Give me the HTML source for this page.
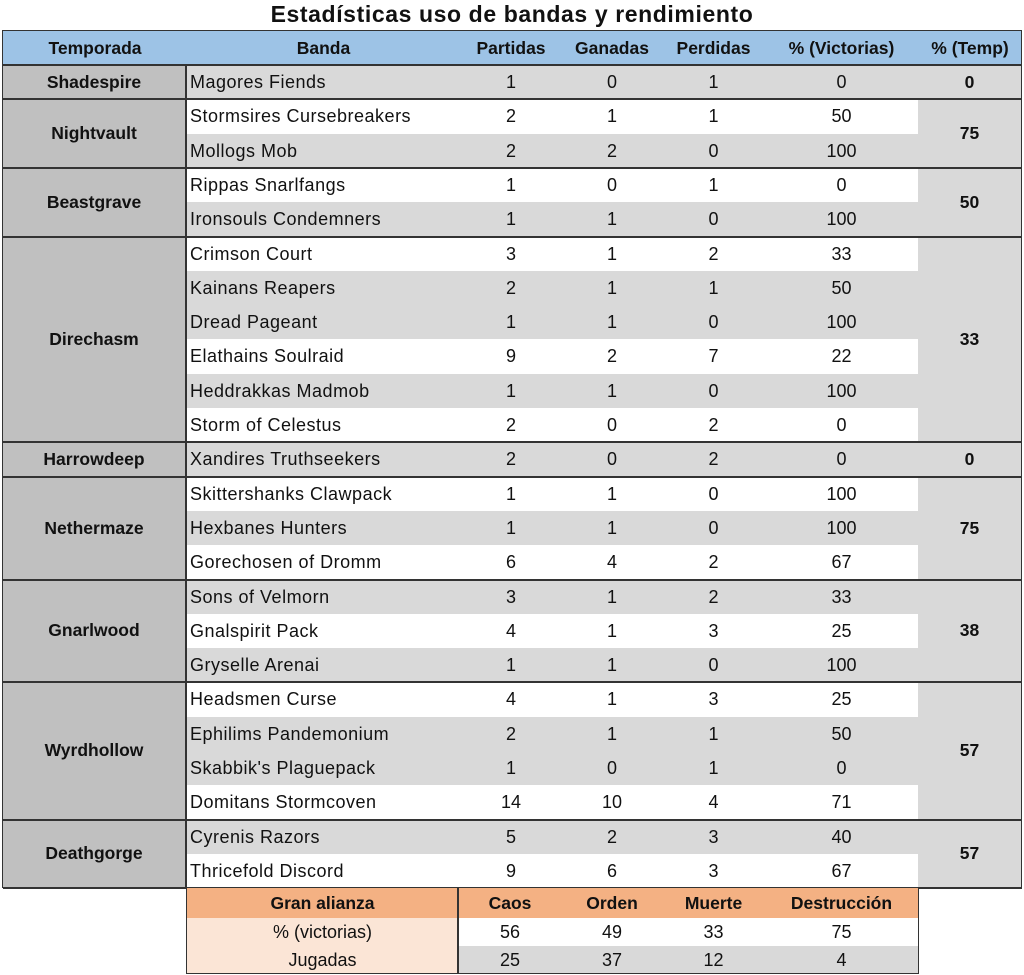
<!DOCTYPE html>
<html><head><meta charset="utf-8"><style>
body{margin:0;width:1024px;height:975px;background:#fff;position:relative;overflow:hidden;font-family:"Liberation Sans",sans-serif;color:#111}
.t{position:absolute;left:0;width:1024px;top:1px;text-align:center;font-weight:bold;font-size:23px;letter-spacing:0.6px}
.r{position:absolute;left:187px;width:731px;height:34.3px;font-size:18px;line-height:34.3px}
.g{background:#d9d9d9}.w{background:#fff}
.r span{position:absolute;top:0;text-align:center}
.n{left:3px;text-align:left!important;letter-spacing:0.5px}
.c1{left:273px;width:102px}.c2{left:375px;width:100px}.c3{left:475px;width:103px}.c4{left:578px;width:153px}
.tp{position:absolute;left:3px;width:184px;background:#c0c0c0;font-weight:bold;font-size:17.5px;display:flex;align-items:center;justify-content:center;border-right:2px solid #333;box-sizing:border-box}
.tc{position:absolute;left:918px;width:103px;background:#d9d9d9;font-weight:bold;font-size:17.5px;display:flex;align-items:center;justify-content:center}
.ln{position:absolute;left:3px;width:1019px;height:2px;background:#333}
.hd{position:absolute;top:31px;left:3px;width:1019px;height:34px;background:#9dc3e6;font-weight:bold;font-size:17.5px;line-height:34px}
.hd span,.bt span{position:absolute;top:0;text-align:center}
.bt{position:absolute;left:187px;width:731px;font-size:18px}
</style></head><body>
<div class="t">Estadísticas uso de bandas y rendimiento</div>
<div class="hd">
<span style="left:0;width:184px">Temporada</span>
<span style="left:184px;width:273px">Banda</span>
<span style="left:457px;width:102px">Partidas</span>
<span style="left:559px;width:100px">Ganadas</span>
<span style="left:659px;width:103px">Perdidas</span>
<span style="left:762px;width:153px">% (Victorias)</span>
<span style="left:915px;width:104px">% (Temp)</span>
</div>

<div class="r g" style="top:65px"><span class="n">Magores Fiends</span><span class="c1">1</span><span class="c2">0</span><span class="c3">1</span><span class="c4">0</span></div>
<div class="r w" style="top:99.3px"><span class="n">Stormsires Cursebreakers</span><span class="c1">2</span><span class="c2">1</span><span class="c3">1</span><span class="c4">50</span></div>
<div class="r g" style="top:133.6px"><span class="n">Mollogs Mob</span><span class="c1">2</span><span class="c2">2</span><span class="c3">0</span><span class="c4">100</span></div>
<div class="r w" style="top:167.9px"><span class="n">Rippas Snarlfangs</span><span class="c1">1</span><span class="c2">0</span><span class="c3">1</span><span class="c4">0</span></div>
<div class="r g" style="top:202.2px"><span class="n">Ironsouls Condemners</span><span class="c1">1</span><span class="c2">1</span><span class="c3">0</span><span class="c4">100</span></div>
<div class="r w" style="top:236.5px"><span class="n">Crimson Court</span><span class="c1">3</span><span class="c2">1</span><span class="c3">2</span><span class="c4">33</span></div>
<div class="r g" style="top:270.8px"><span class="n">Kainans Reapers</span><span class="c1">2</span><span class="c2">1</span><span class="c3">1</span><span class="c4">50</span></div>
<div class="r g" style="top:305.1px"><span class="n">Dread Pageant</span><span class="c1">1</span><span class="c2">1</span><span class="c3">0</span><span class="c4">100</span></div>
<div class="r w" style="top:339.4px"><span class="n">Elathains Soulraid</span><span class="c1">9</span><span class="c2">2</span><span class="c3">7</span><span class="c4">22</span></div>
<div class="r g" style="top:373.7px"><span class="n">Heddrakkas Madmob</span><span class="c1">1</span><span class="c2">1</span><span class="c3">0</span><span class="c4">100</span></div>
<div class="r w" style="top:408px"><span class="n">Storm of Celestus</span><span class="c1">2</span><span class="c2">0</span><span class="c3">2</span><span class="c4">0</span></div>
<div class="r g" style="top:442.3px"><span class="n">Xandires Truthseekers</span><span class="c1">2</span><span class="c2">0</span><span class="c3">2</span><span class="c4">0</span></div>
<div class="r w" style="top:476.6px"><span class="n">Skittershanks Clawpack</span><span class="c1">1</span><span class="c2">1</span><span class="c3">0</span><span class="c4">100</span></div>
<div class="r g" style="top:510.9px"><span class="n">Hexbanes Hunters</span><span class="c1">1</span><span class="c2">1</span><span class="c3">0</span><span class="c4">100</span></div>
<div class="r w" style="top:545.2px"><span class="n">Gorechosen of Dromm</span><span class="c1">6</span><span class="c2">4</span><span class="c3">2</span><span class="c4">67</span></div>
<div class="r g" style="top:579.5px"><span class="n">Sons of Velmorn</span><span class="c1">3</span><span class="c2">1</span><span class="c3">2</span><span class="c4">33</span></div>
<div class="r w" style="top:613.8px"><span class="n">Gnalspirit Pack</span><span class="c1">4</span><span class="c2">1</span><span class="c3">3</span><span class="c4">25</span></div>
<div class="r g" style="top:648.1px"><span class="n">Gryselle Arenai</span><span class="c1">1</span><span class="c2">1</span><span class="c3">0</span><span class="c4">100</span></div>
<div class="r w" style="top:682.4px"><span class="n">Headsmen Curse</span><span class="c1">4</span><span class="c2">1</span><span class="c3">3</span><span class="c4">25</span></div>
<div class="r g" style="top:716.7px"><span class="n">Ephilims Pandemonium</span><span class="c1">2</span><span class="c2">1</span><span class="c3">1</span><span class="c4">50</span></div>
<div class="r g" style="top:751px"><span class="n">Skabbik's Plaguepack</span><span class="c1">1</span><span class="c2">0</span><span class="c3">1</span><span class="c4">0</span></div>
<div class="r w" style="top:785.3px"><span class="n">Domitans Stormcoven</span><span class="c1">14</span><span class="c2">10</span><span class="c3">4</span><span class="c4">71</span></div>
<div class="r g" style="top:819.6px"><span class="n">Cyrenis Razors</span><span class="c1">5</span><span class="c2">2</span><span class="c3">3</span><span class="c4">40</span></div>
<div class="r w" style="top:853.9px"><span class="n">Thricefold Discord</span><span class="c1">9</span><span class="c2">6</span><span class="c3">3</span><span class="c4">67</span></div>

<div class="tp" style="top:65px;height:34.3px">Shadespire</div>
<div class="tp" style="top:99.3px;height:68.6px">Nightvault</div>
<div class="tp" style="top:167.9px;height:68.6px">Beastgrave</div>
<div class="tp" style="top:236.5px;height:205.8px">Direchasm</div>
<div class="tp" style="top:442.3px;height:34.3px">Harrowdeep</div>
<div class="tp" style="top:476.6px;height:102.9px">Nethermaze</div>
<div class="tp" style="top:579.5px;height:102.9px">Gnarlwood</div>
<div class="tp" style="top:682.4px;height:137.2px">Wyrdhollow</div>
<div class="tp" style="top:819.6px;height:68.6px">Deathgorge</div>

<div class="tc" style="top:65px;height:34.3px">0</div>
<div class="tc" style="top:99.3px;height:68.6px">75</div>
<div class="tc" style="top:167.9px;height:68.6px">50</div>
<div class="tc" style="top:236.5px;height:205.8px">33</div>
<div class="tc" style="top:442.3px;height:34.3px">0</div>
<div class="tc" style="top:476.6px;height:102.9px">75</div>
<div class="tc" style="top:579.5px;height:102.9px">38</div>
<div class="tc" style="top:682.4px;height:137.2px">57</div>
<div class="tc" style="top:819.6px;height:68.6px">57</div>

<div class="ln" style="top:64px"></div>
<div class="ln" style="top:98.3px"></div>
<div class="ln" style="top:166.9px"></div>
<div class="ln" style="top:235.5px"></div>
<div class="ln" style="top:441.3px"></div>
<div class="ln" style="top:475.6px"></div>
<div class="ln" style="top:578.5px"></div>
<div class="ln" style="top:681.4px"></div>
<div class="ln" style="top:818.6px"></div>
<div class="ln" style="top:887px"></div>
<div style="position:absolute;left:2px;top:30px;width:1020px;height:858px;border:1.5px solid #333;box-sizing:border-box"></div>

<div class="bt" style="top:888px;height:30px;line-height:30px;background:#f4b183;font-weight:bold;font-size:17.5px">
<span style="left:0;width:271px">Gran alianza</span><span style="left:271px;width:104px">Caos</span><span style="left:375px;width:100px">Orden</span><span style="left:475px;width:103px">Muerte</span><span style="left:578px;width:153px">Destrucción</span></div>
<div class="bt" style="top:918px;height:28px;line-height:28px;background:#fff">
<span style="left:0;width:271px;background:#fbe5d6;height:28px">% (victorias)</span><span style="left:271px;width:104px">56</span><span style="left:375px;width:100px">49</span><span style="left:475px;width:103px">33</span><span style="left:578px;width:153px">75</span></div>
<div class="bt" style="top:946px;height:28px;line-height:28px;background:#d9d9d9">
<span style="left:0;width:271px;background:#fbe5d6;height:28px">Jugadas</span><span style="left:271px;width:104px">25</span><span style="left:375px;width:100px">37</span><span style="left:475px;width:103px">12</span><span style="left:578px;width:153px">4</span></div>
<div style="position:absolute;left:186px;top:888px;width:733px;height:86px;border:1.5px solid #333;border-top:none;box-sizing:border-box"></div>
<div style="position:absolute;left:457px;top:888px;width:2px;height:86px;background:#333"></div>
</body></html>
